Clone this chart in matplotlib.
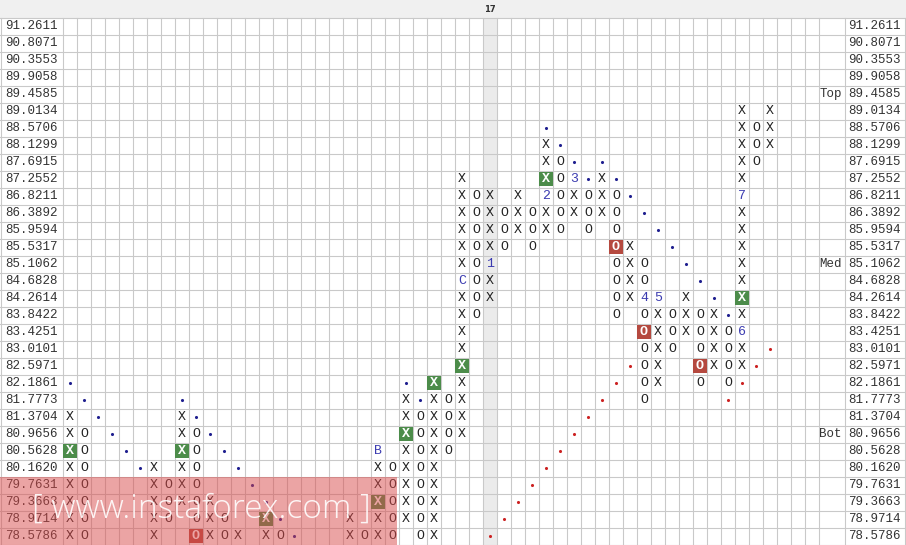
import matplotlib
matplotlib.use("Agg")
import matplotlib.pyplot as plt
from matplotlib.patches import Rectangle

# Price levels (one per row, top to bottom)
prices = ["91.2611", "90.8071", "90.3553", "89.9058", "89.4585", "89.0134",
          "88.5706", "88.1299", "87.6915", "87.2552", "86.8211", "86.3892",
          "85.9594", "85.5317", "85.1062", "84.6828", "84.2614", "83.8422",
          "83.4251", "83.0101", "82.5971", "82.1861", "81.7773", "81.3704",
          "80.9656", "80.5628", "80.1620", "79.7631", "79.3663", "78.9714",
          "78.5786"]

# Columns of X / O: (column, top row, bottom row)
x_columns = [(0, 23, 30), (6, 26, 30), (8, 23, 28), (10, 28, 30), (12, 30, 30),
             (14, 29, 30), (20, 29, 30), (22, 25, 30), (24, 22, 29), (26, 21, 30),
             (28, 9, 24), (30, 10, 16), (32, 10, 12), (34, 7, 12), (36, 9, 11),
             (38, 9, 11), (40, 13, 16), (42, 16, 21), (44, 16, 18), (46, 17, 20),
             (48, 5, 20), (50, 5, 7)]
o_columns = [(1, 24, 30), (7, 27, 29), (9, 24, 30), (11, 29, 30), (15, 30, 30),
             (21, 30, 30), (23, 26, 30), (25, 23, 30), (27, 22, 25), (29, 10, 17),
             (31, 11, 13), (33, 11, 13), (35, 8, 12), (37, 10, 12), (39, 10, 17),
             (41, 14, 22), (43, 17, 19), (45, 17, 21), (47, 18, 21), (49, 6, 8)]

# highlighted boxes (column, row)
green_boxes = [(0, 25), (8, 25), (14, 29), (22, 28), (24, 24), (26, 21),
               (28, 20), (34, 9), (48, 16)]
red_boxes = [(9, 30), (39, 13), (41, 18), (45, 20)]

# month markers replacing a box (column, row, text)
markers = [(22, 25, "B"), (28, 15, "C"), (30, 14, "1"), (34, 10, "2"),
           (36, 9, "3"), (41, 16, "4"), (42, 16, "5"), (48, 18, "6"), (48, 10, "7")]

# trend line dots
blue_dot_cols = [0, 1, 2, 3, 4, 5, 8, 9, 10, 11, 12, 13, 14, 15, 16, 24, 25,
                 34, 35, 36, 37, 38, 39, 40, 41, 42, 43, 44, 45, 46, 47]
blue_dot_rows = [21, 22, 23, 24, 25, 26, 22, 23, 24, 25, 26, 27, 28, 29, 30, 21, 22,
                 6, 7, 8, 9, 8, 9, 10, 11, 12, 13, 14, 15, 16, 17]
red_dot_cols = [30, 31, 32, 33, 34, 35, 36, 37, 38, 39, 40, 47, 48, 49, 50]
red_dot_rows = [30, 29, 28, 27, 26, 25, 24, 23, 22, 21, 20, 22, 21, 20, 19]

header_col = 30
header_text = "17"
level_labels = ["Top", "Med", "Bot"]
level_rows = [4, 14, 24]
watermark = "[ www.instaforex.com ]"

W, H = 906, 545
n_cols = 54


def px(x):
    # pixel x -> column units
    return (x - 70) / 14.0


def py(y):
    # pixel y -> row units
    return (y - 26) / 17.0


fig = plt.figure(figsize=(W / 100, H / 100), dpi=100)
ax = fig.add_axes([0, 0, 1, 1])
ax.set_xlim(px(0), px(W))
ax.set_ylim(py(H), py(0))
ax.axis("off")

mono = "Liberation Mono"
grid_c = "#c9c9c9"
txt_c = "#333333"
n_rows = len(prices)

# header band and highlighted column
ax.add_patch(Rectangle((px(0), py(0)), px(W) - px(0), -0.5 - py(0),
                       color="#f0f0f0", lw=0, zorder=0))
ax.add_patch(Rectangle((header_col - 0.5, -0.5), 1, n_rows,
                       color="#ebebeb", lw=0, zorder=0))
ax.text(header_col, py(9), header_text, ha="center", va="center",
        fontsize=6, fontweight="bold", color="#333333", family="DejaVu Sans")

# grid
for r in range(n_rows + 1):
    ax.plot([px(0), px(W)], [r - 0.5, r - 0.5], color=grid_c, lw=0.8, zorder=1)
vx = [c - 0.5 for c in range(n_cols + 1)] + [px(1), px(845), px(905)]
for x in vx:
    ax.plot([x, x], [-0.5, n_rows - 0.5], color=grid_c, lw=0.8, zorder=1)

# price labels
for r, p in enumerate(prices):
    ax.text(px(5), r, p, ha="left", va="center", fontsize=9, family=mono, color=txt_c)
    ax.text(px(848), r, p, ha="left", va="center", fontsize=9, family=mono, color=txt_c)
for lab, r in zip(level_labels, level_rows):
    ax.text(px(842), r, lab, ha="right", va="center", fontsize=9, family=mono, color=txt_c)

special = {(c, r) for c, r in green_boxes + red_boxes}
special |= {(c, r) for c, r, _ in markers}

# X and O columns
for cols, sym in ((x_columns, "X"), (o_columns, "O")):
    for c, top, bot in cols:
        for r in range(top, bot + 1):
            if (c, r) in special:
                continue
            ax.text(c, r, sym, ha="center", va="center", fontsize=9.5,
                    family=mono, color="#222222", zorder=3)

for boxes, color, sym in ((green_boxes, "#4c8c4a", "X"), (red_boxes, "#b5493f", "O")):
    for c, r in boxes:
        ax.add_patch(Rectangle((c - 0.47, r - 0.42), 0.94, 0.84, color=color, lw=0, zorder=2))
        ax.text(c, r, sym, ha="center", va="center", fontsize=9.5, family=mono,
                fontweight="bold", color="white", zorder=3)

for c, r, t in markers:
    ax.text(c, r, t, ha="center", va="center", fontsize=9.5, family=mono,
            color="#3b3bb0", zorder=3)

ax.scatter(blue_dot_cols, blue_dot_rows, s=5, color="#1f1f8f", lw=0, zorder=3)
ax.scatter(red_dot_cols, red_dot_rows, s=5, color="#cc2222", lw=0, zorder=3)

# watermark
ax.add_patch(Rectangle((px(0), 26.5), px(397) - px(0), py(H) - 26.5,
                       color="#d94a4a", alpha=0.5, lw=0, zorder=5))
ax.text(px(201), py(509), watermark, ha="center", va="center", fontsize=24,
        family="Open Sans", fontweight="light", color="white",
        alpha=0.9, zorder=6)

fig.savefig("out.png", dpi=100)
